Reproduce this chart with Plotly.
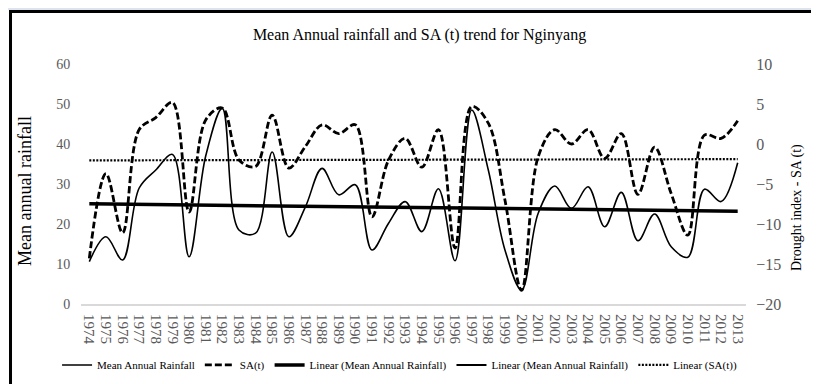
import numpy as np
import plotly.graph_objects as go

years = [str(y) for y in range(1974, 2014)]
rainfall = [10.6, 16.8, 11.0, 29.0, 33.5, 37.4, 11.8, 37.0, 48.9, 18.5,
            17.7, 38.0, 16.8, 24.3, 33.9, 27.3, 29.8, 13.5, 20.2, 25.6,
            18.1, 28.8, 10.8, 48.5, 33.5, 13.5, 3.5, 22.7, 29.5, 23.9,
            29.3, 19.3, 27.9, 15.8, 22.5, 14.3, 11.7, 28.7, 25.6, 35.3]
sa_t = [-14.3, -3.7, -11.1, 1.8, 3.3, 5.2, -8.5, 3.0, 4.5, -2.0,
        -2.8, 3.6, -3.0, -0.3, 2.4, 1.3, 2.4, -9.1, -2.0, 0.7,
        -2.9, 1.8, -13.0, 4.7, 2.6, -7.0, -18.3, -1.6, 1.8, 0.0,
        1.8, -1.8, 1.3, -6.3, -0.4, -6.2, -11.4, 1.1, 0.7, 2.9]

idx = np.arange(len(years))
rain_fit = np.polyval(np.polyfit(idx, rainfall, 1), idx)
sa_fit = np.polyval(np.polyfit(idx, sa_t, 1), idx)

FONT = "Liberation Serif, Times New Roman, serif"
TICK = "#595959"

fig = go.Figure()
fig.add_trace(go.Scatter(x=years, y=rainfall, name="Mean Annual Rainfall", mode="lines",
                         line=dict(color="black", width=1.6, shape="spline", smoothing=1.0)))
fig.add_trace(go.Scatter(x=years, y=sa_t, name="SA(t)", mode="lines", yaxis="y2",
                         line=dict(color="black", width=2.8, dash="7px,3px", shape="spline", smoothing=1.0)))
fig.add_trace(go.Scatter(x=years, y=rain_fit, name="Linear (Mean Annual Rainfall)", mode="lines",
                         line=dict(color="black", width=3.5)))
fig.add_trace(go.Scatter(x=[None], y=[None], name="Linear (Mean Annual Rainfall)", mode="lines",
                         line=dict(color="black", width=2)))
fig.add_trace(go.Scatter(x=years, y=sa_fit, name="Linear (SA(t))", mode="lines", yaxis="y2",
                         line=dict(color="black", width=2.2, dash="2px,1.5px")))

shapes = [
    dict(type="rect", xref="paper", yref="paper", x0=-0.2, x1=1.2, y0=1.225, y1=1.35,
         fillcolor="#dde4ee", line=dict(width=0), layer="below"),
    dict(type="rect", xref="paper", yref="paper", x0=-0.106, x1=1.2, y0=-0.5, y1=1.219,
         fillcolor="rgba(0,0,0,0)", line=dict(color="black", width=3)),
]

# page body has an 8px margin: the figure is drawn from (8, 8) of the window
fig.update_layout(
    width=811, height=376,
    margin=dict(l=73, r=73, t=56, b=80, autoexpand=False),
    paper_bgcolor="white", plot_bgcolor="white",
    font=dict(family=FONT, color="black"),
    title=dict(text="Mean Annual rainfall and SA (t) trend for Nginyang",
               x=0.5074, xref="container", xanchor="center", y=1 - 26 / 376, yref="container",
               yanchor="middle", font=dict(family=FONT, size=16, color="black")),
    showlegend=True,
    legend=dict(orientation="h", x=-0.036, xref="paper", xanchor="left",
                y=-0.254, yref="paper", yanchor="middle",
                font=dict(family=FONT, size=11, color="black"),
                itemwidth=30, tracegroupgap=0, bgcolor="rgba(0,0,0,0)"),
    xaxis=dict(type="category", range=[-0.5, len(years) - 0.5], tickangle=90,
               tickmode="array", tickvals=years, ticktext=years, automargin=False,
               showgrid=False, showline=True, linecolor="#d9d9d9", linewidth=2,
               ticks="outside", ticklen=5, tickcolor="white",
               tickfont=dict(family=FONT, size=15, color=TICK)),
    yaxis=dict(range=[0, 60], dtick=10, showgrid=False, zeroline=False, showline=False,
               ticks="outside", ticklen=7, tickcolor="white", automargin=False,
               tickfont=dict(family=FONT, size=14, color=TICK)),
    yaxis2=dict(range=[-20, 10], dtick=5, overlaying="y", side="right", showgrid=False,
                zeroline=False, showline=False, ticks="outside", ticklen=6, tickcolor="white",
                automargin=False, tickfont=dict(family=FONT, size=16, color=TICK)),
    shapes=shapes,
    annotations=[
        dict(text="Mean annual rainfall", xref="paper", yref="paper",
             x=(17 - 73) / 665, y=(296 - 183) / 240, showarrow=False, textangle=-90,
             xanchor="center", yanchor="middle", font=dict(family=FONT, size=18, color="black")),
        dict(text="Drought index - SA (t)", xref="paper", yref="paper",
             x=(789 - 73) / 665, y=(296 - 200) / 240, showarrow=False, textangle=-90,
             xanchor="center", yanchor="middle", font=dict(family=FONT, size=14, color="black")),
    ],
)

fig.write_html("out.html")
